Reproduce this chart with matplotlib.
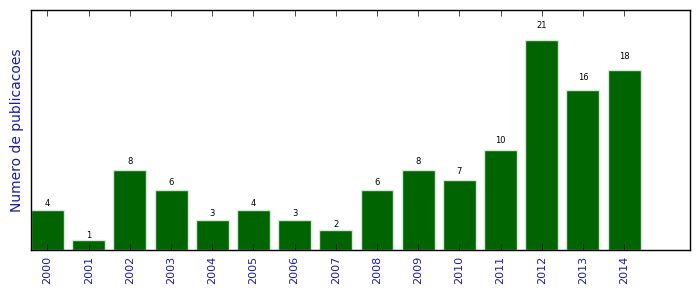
import matplotlib
matplotlib.use('Agg')
import matplotlib.pyplot as plt
import numpy as np

years = ['2000', '2001', '2002', '2003', '2004', '2005', '2006', '2007',
         '2008', '2009', '2010', '2011', '2012', '2013', '2014']
counts = [4, 1, 8, 6, 3, 4, 3, 2, 6, 8, 7, 10, 21, 16, 18]

plt.style.use('classic')
fig = plt.figure(figsize=(6.99, 2.92), dpi=100)
ax = fig.add_axes([31/699, 1-250/292, (690-31)/699, 240/292])

x = np.arange(len(years))
width = 0.8
bars = ax.bar(x, counts, width, align='edge', color='#006400', edgecolor='#d8e8d8', linewidth=1)
for b in bars:
    h = b.get_height()
    ax.text(b.get_x() + b.get_width()/2., 1.05*h, '%d' % int(h),
            ha='center', va='bottom', fontsize=6)

ax.set_xlim(0, 16)
ax.set_ylim(0, 24)
ax.set_yticks([])
ax.set_xticks(x + width/2)
ax.set_xticklabels(years, rotation=90, fontsize=8, color='#1a1aa6')
ax.set_ylabel('Numero de publicacoes', color='#1a1aa6', fontsize=10)

fig.savefig('out.png', dpi=100)
